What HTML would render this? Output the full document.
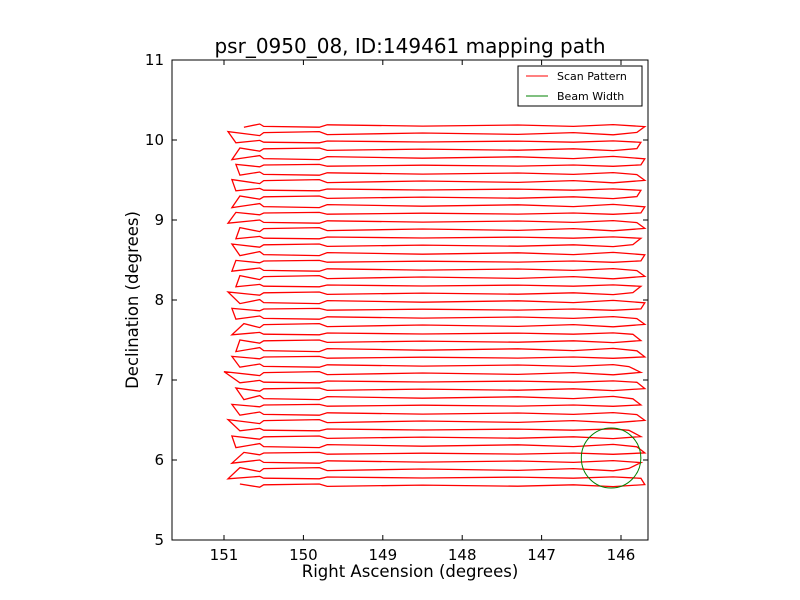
<!DOCTYPE html>
<html><head><meta charset="utf-8"><style>
body{margin:0;background:#fff;}
svg{display:block;font-family:"DejaVu Sans","Liberation Sans",sans-serif;}
</style></head><body>
<svg id="chart" width="800" height="600">
<rect x="0" y="0" width="800" height="600" fill="#fff"/>
<text x="410" y="53" font-size="20" text-anchor="middle">psr_0950_08, ID:149461 mapping path</text>
<g id="plot"></g>
<text x="410" y="577" font-size="16.5" text-anchor="middle">Right Ascension (degrees)</text>
<text x="0" y="0" font-size="16.5" text-anchor="middle" transform="translate(138,300) rotate(-90)">Declination (degrees)</text>
<g>
<rect x="518" y="66" width="124" height="40" fill="#fff" stroke="#000" stroke-width="1"/>
<line x1="526" y1="76" x2="548" y2="76" stroke="red"/>
<text x="557" y="80" font-size="11">Scan Pattern</text>
<line x1="526" y1="96" x2="548" y2="96" stroke="green"/>
<text x="557" y="100" font-size="11">Beam Width</text>
</g>
</svg>
<script>
const decs=[5.68,5.78,5.88,5.98,6.08,6.18,6.28,6.38,6.48,6.58,6.68,6.78,6.88,6.98,7.08,7.18,7.28,7.38,7.48,7.58,7.68,7.78,7.88,7.98,8.08,8.18,8.28,8.38,8.48,8.58,8.68,8.78,8.88,8.98,9.08,9.18,9.28,9.38,9.48,9.58,9.68,9.78,9.88,9.98,10.08,10.18];
const leftRA=[150.8,150.95,150.8,150.9,150.75,150.85,150.9,150.8,150.95,150.8,150.9,150.75,150.85,150.8,151.0,150.8,150.9,150.85,150.8,150.9,150.75,150.85,150.9,150.8,150.95,150.85,150.8,150.9,150.85,150.8,150.9,150.85,150.8,150.95,150.85,150.9,150.8,150.85,150.9,150.8,150.85,150.9,150.8,150.85,150.95,150.75];
const rightRA=[145.7,145.75,145.9,145.75,145.7,145.8,145.75,145.9,145.7,145.8,145.75,145.85,145.7,145.8,145.75,145.9,145.7,145.8,145.75,145.85,145.7,145.8,145.75,145.7,145.85,145.75,145.7,145.8,145.75,145.7,145.85,145.75,145.7,145.8,145.75,145.7,145.8,145.75,145.7,145.8,145.75,145.7,145.8,145.75,145.8,145.7];
const kinkA=[0.02,-0.015,0.025,-0.02,0.015,-0.025,0.02,-0.015,0.025,-0.02,0.015,-0.025,0.02,-0.015,0.025,-0.02,0.015,-0.025,0.02,-0.015,0.025,-0.02,0.015,-0.025,0.02,-0.015,0.025,-0.02,0.015,-0.025,0.02,-0.015,0.025,-0.02,0.015,-0.025,0.02,-0.015,0.025,-0.02,0.015,-0.025,0.02,-0.015,0.025,-0.02];
const beamRA=146.125, beamDec=6.025, beamRadius=0.375;
const xTicks=[151,150,149,148,147,146];
const yTicks=[5,6,7,8,9,10,11];
const ns="http://www.w3.org/2000/svg";
const L=172,R=648,T=60,B=540,xMin=145.66,xMax=151.655,yMin=5,yMax=11;
function X(v){return L+(xMax-v)/(xMax-xMin)*(R-L);}
function Y(v){return B-(v-yMin)/(yMax-yMin)*(B-T);}
const plot=document.getElementById('plot');
function mk(tag,attrs){const e=document.createElementNS(ns,tag);for(const k in attrs)e.setAttribute(k,attrs[k]);plot.appendChild(e);return e;}
let d="";
for(let i=0;i<decs.length;i++){
  const y=decs[i],k=kinkA[i];
  let pts=[[leftRA[i],y+k],[150.55,y-k],[150.5,y+k*0.5],[149.8,y+k],[149.7,y-k*0.5],[148.5,y+k*0.3],[147.3,y-k*0.4],[146.6,y+k*0.5],[146.1,y-k*0.6],[rightRA[i],y+k*0.6]];
  if(i%2===1)pts.reverse();
  pts.forEach((p,j)=>{d+=(i===0&&j===0?"M":"L")+X(p[0]).toFixed(1)+","+Y(p[1]).toFixed(1)+" ";});
}
const path=mk('path',{d:d,fill:'none',stroke:'red','stroke-width':1.3});


const c=mk('ellipse',{cx:X(beamRA),cy:Y(beamDec),rx:beamRadius*(R-L)/(xMax-xMin),ry:beamRadius*(B-T)/(yMax-yMin),fill:'none',stroke:'green','stroke-width':1});


const fr=mk('rect',{x:L,y:T,width:R-L,height:B-T,fill:'none',stroke:'#000','stroke-width':1});


xTicks.forEach(v=>{
  const x=X(v);
  const t1=mk('line',{x1:x,y1:B,x2:x,y2:B-5,stroke:'#000'});
  
  
  const t2=mk('line',{x1:x,y1:T,x2:x,y2:T+5,stroke:'#000'});
  
  
  const tx=mk('text',{x:x,y:B+20,'font-size':15,'text-anchor':'middle'});
  tx.textContent=v;
  
  
});
yTicks.forEach(v=>{
  const y=Y(v);
  const t1=mk('line',{x1:L,y1:y,x2:L+5,y2:y,stroke:'#000'});
  
  
  const t2=mk('line',{x1:R,y1:y,x2:R-5,y2:y,stroke:'#000'});
  
  
  const tx=mk('text',{x:L-8,y:y+5,'font-size':15,'text-anchor':'end'});
  tx.textContent=v;
  
  
});
</script>
</body></html>
